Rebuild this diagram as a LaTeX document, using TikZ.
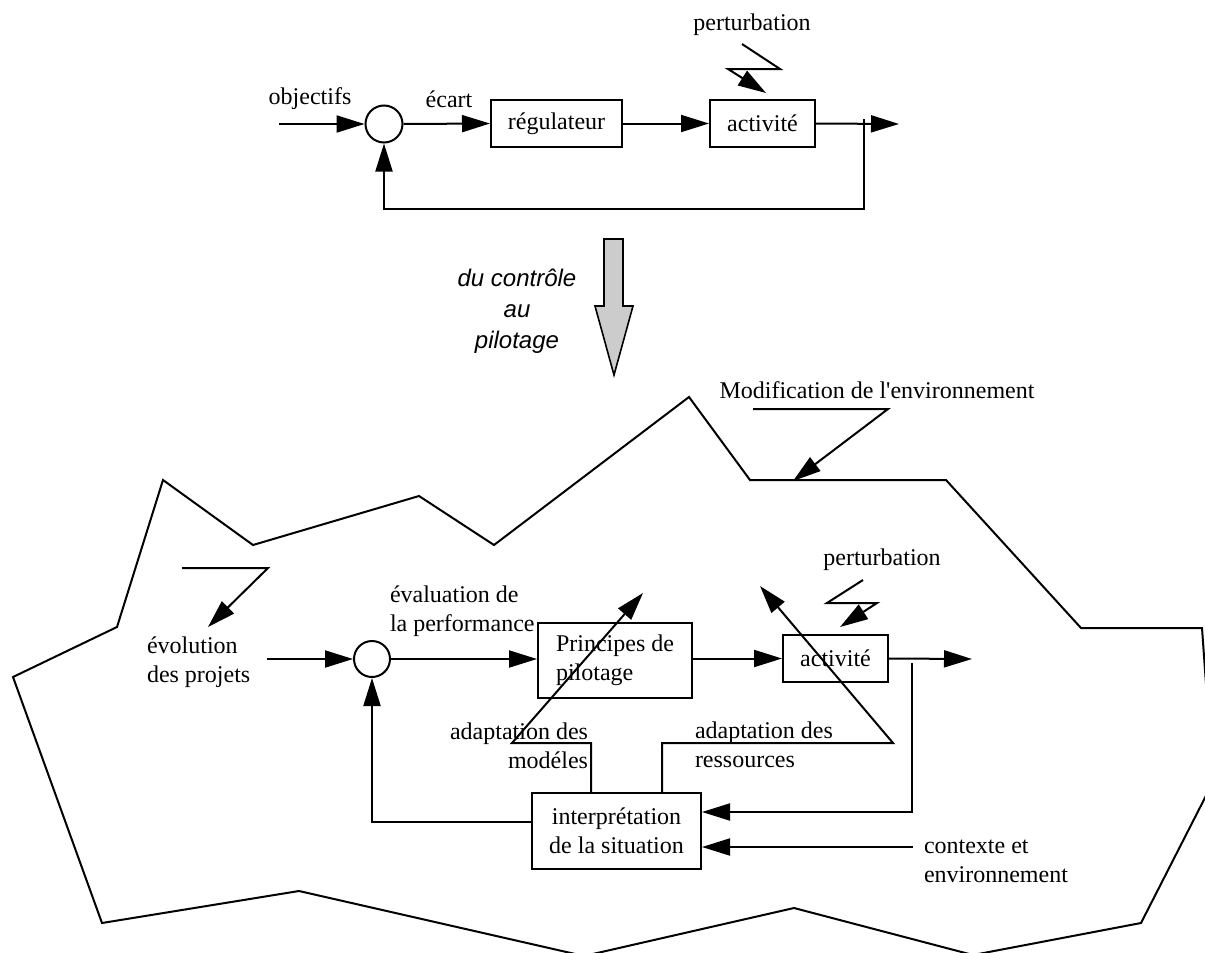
\documentclass[tikz,border=0pt]{standalone}
\usepackage{fontspec}
\setmainfont{Liberation Serif}[Ligatures=TeXOff]
\setsansfont{Liberation Sans}
\usetikzlibrary{arrows.meta}
\newcommand{\lbfont}{\fontsize{12}{14.5}\selectfont}

\begin{document}
\begin{tikzpicture}[x=0.5pt, y=-0.5pt, line width=1pt,
  tip/.style={-{Triangle[length=14pt,width=8.5pt]}},
  blk/.style={draw, inner sep=0pt, font=\lbfont, align=left},
  sumc/.style={draw, circle, minimum size=18.5pt, inner sep=0pt},
  lbl/.style={inner sep=0pt, font=\lbfont},
  bigarrow/.style={draw, fill=black!20, line width=0.8pt},
]
\useasboundingbox (0,0) rectangle (1205,953);

% ---------- classical control loop ----------
\node[lbl] (obj) at (310,99) {objectifs};
\node[lbl] (ecart) at (449,99) {écart};
\node[sumc] (sum1) at (384,124) {};
\node[blk, minimum width=65.5pt, minimum height=23.5pt, align=center] (reg) at (556.5,123.5) {régulateur};
\node[blk, minimum width=52.5pt, minimum height=23.5pt, align=center] (act1) at (762.5,123.5) {activité};
\node[lbl] (pert1) at (752,25) {perturbation};

\coordinate (in1) at (279,124);
\coordinate (out1) at (899,124);
\coordinate (tap1) at (864,119);
\coordinate (fb1) at (864,209);

\draw[tip] (in1) -- (sum1.west);
\draw[tip] (sum1.east) -- (reg.west);
\draw[tip] (reg.east) -- (act1.west);
\draw[tip] (act1.east) -- (out1);
\draw[tip] (tap1) -- (fb1) -| (sum1.south);

% disturbance bolt
\coordinate (pa1) at (742,44);
\coordinate (pa2) at (780,69);
\coordinate (pa3) at (728,69);
\coordinate (pa4) at (766,93);
\draw[tip] (pa1) -- (pa2) -- (pa3) -- (pa4);

% ---------- transition arrow ----------
\node[inner sep=0pt, font=\lbfont\sffamily\itshape, align=center] (trans) at (517,311)
  {du contrôle\\[1pt]au\\[1pt]pilotage};
\draw[bigarrow] (604,239) -- (623,239) -- (623,306) -- (633,306) -- (614,375)
  -- (595,306) -- (604,306) -- cycle;

% ---------- environment boundary ----------
\draw (163,480) -- (253,545) -- (419,496) -- (494,545) -- (689,397) -- (750,480)
  -- (946,480) -- (1081,628) -- (1202,628) -- (1213,782) -- (1141,923)
  -- (973,955) -- (794,908) -- (584,956) -- (299,891) -- (102,923)
  -- (13,677) -- (117,627) -- cycle;

\node[lbl] (modif) at (877,390) {Modification de l'environnement};
\coordinate (ma1) at (753,409);
\coordinate (ma2) at (888,409);
\coordinate (ma3) at (793,481);
\draw[tip] (ma1) -- (ma2) -- (ma3);

% ---------- steering loop ----------
\node[lbl, anchor=west, align=left] (evo) at (146,662) {évolution\\des projets};
\coordinate (ea1) at (182,568);
\coordinate (ea2) at (268,568);
\coordinate (ea3) at (208,627);
\draw[tip] (ea1) -- (ea2) -- (ea3);

\node[sumc, minimum size=18pt] (sum2) at (372,659) {};
\node[lbl, anchor=west, align=left] (eval) at (389,611.5) {évaluation de\\la performance};
\node[blk, minimum width=77pt, minimum height=37.5pt] (prin) at (615,660.5) {Principes de\\pilotage};
\node[blk, minimum width=52.5pt, minimum height=23.5pt, align=center] (act2) at (835.5,658.5) {activité};
\node[blk, minimum width=84.5pt, minimum height=38pt, align=center] (interp) at (616.5,831) {interprétation\\de la situation};

\node[lbl] (pert2) at (882,560) {perturbation};
\coordinate (pb1) at (863,580);
\coordinate (pb2) at (827,603);
\coordinate (pb3) at (877,603);
\coordinate (pb4) at (840,627);
\draw[tip] (pb1) -- (pb2) -- (pb3) -- (pb4);

\coordinate (in2) at (267,659);
\coordinate (out2) at (972,659);
\coordinate (tap2) at (912,663);
\coordinate (lvlA) at (0,812);
\coordinate (lvlB) at (0,822);
\coordinate (lvlC) at (0,847);
\coordinate (ctx) at (913,847);

\draw[tip] (in2) -- (sum2.west);
\draw[tip] (sum2.east) -- (prin.west |- sum2.east);
\draw[tip] (prin.east |- act2.west) -- (act2.west);
\draw[tip] (act2.east) -- (out2);
\draw[tip] (tap2) |- (interp.east |- lvlA);
\draw[tip] (ctx) -- (interp.east |- lvlC);
\draw[tip] (interp.west |- lvlB) -| (sum2.south);

\node[lbl, anchor=west, align=left] (ctxl) at (923,861) {contexte et\\environnement};

% adaptation of models
\coordinate (m1) at (591,743);
\coordinate (m2) at (512,743);
\coordinate (m3) at (643,593);
\draw[tip] (interp.north -| m1) -- (m1) -- (m2) -- (m3);
\node[lbl, anchor=east, align=right] (adm) at (589,745.5) {adaptation des\\modéles};

% adaptation of resources
\coordinate (r1) at (662,743);
\coordinate (r2) at (893,743);
\coordinate (r3) at (760,586);
\draw[tip] (interp.north -| r1) -- (r1) -- (r2) -- (r3);
\node[lbl, anchor=west, align=left] (adr) at (694,744.5) {adaptation des\\ressources};
\end{tikzpicture}
\end{document}
